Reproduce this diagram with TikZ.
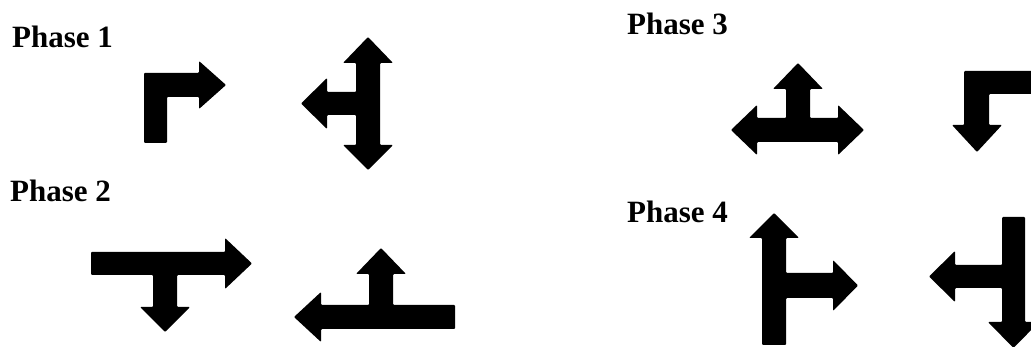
\documentclass[tikz,border=0pt]{standalone}
\usepackage{fontspec}
\setmainfont{Liberation Serif}
\begin{document}
\begin{tikzpicture}[x=1pt,y=-1pt,
  phaselabel/.style={anchor=base west,inner sep=0pt,font=\bfseries\fontsize{31}{36}\selectfont},
  signal/.style={fill=black,rounded corners=1pt}]
\useasboundingbox (0,0) rectangle (1031,347);
\clip (0,0) rectangle (1031,347);
% labels
\node[phaselabel] (p1) at (12,48) {Phase 1};
\node[phaselabel] (p2) at (10,202) {Phase 2};
\node[phaselabel] (p3) at (627,35) {Phase 3};
\node[phaselabel] (p4) at (627,223) {Phase 4};
% Phase 1: right turn
\fill[signal] (144,143) -- (144,73) -- (199,73) -- (199,61) -- (226,85) -- (199,109) -- (199,97) -- (167,97) -- (167,143) -- cycle;
% Phase 1: up / down / left
\fill[signal] (368,37) -- (393,63) -- (380,63) -- (380,145) -- (393,145) -- (368,170) -- (343,145) -- (356,145) -- (356,115) -- (327,115) -- (327,129) -- (301,103.5) -- (327,78) -- (327,92) -- (356,92) -- (356,63) -- (343,63) -- cycle;
% Phase 2: right + down
\fill[signal] (91,252) -- (225,252) -- (225,238) -- (252,263.5) -- (225,289) -- (225,275) -- (177,275) -- (177,307) -- (190,307) -- (165,332) -- (140,307) -- (153,307) -- (153,275) -- (91,275) -- cycle;
% Phase 2: left + up
\fill[signal] (455,305) -- (455,329) -- (321,329) -- (321,342) -- (294,317) -- (321,292) -- (321,305) -- (369,305) -- (369,274) -- (356,274) -- (381,248) -- (406,274) -- (393,274) -- (393,305) -- cycle;
% Phase 3: left / up / right
\fill[signal] (731,130) -- (757,105) -- (757,118) -- (786,118) -- (786,89) -- (773,89) -- (798,63) -- (823,89) -- (810,89) -- (810,118) -- (838,118) -- (838,105) -- (864,130) -- (838,155) -- (838,142) -- (757,142) -- (757,155) -- cycle;
% Phase 3: turn down
\fill[signal] (1045,71) -- (964,71) -- (964,125) -- (952,125) -- (977,152) -- (1002,125) -- (989,125) -- (989,94) -- (1045,94) -- cycle;
% Phase 4: up + right
\fill[signal] (762,345) -- (762,238) -- (749,238) -- (774,213) -- (799,238) -- (786,238) -- (786,273) -- (833,273) -- (833,260) -- (858,285.5) -- (833,311) -- (833,298) -- (786,298) -- (786,345) -- cycle;
% Phase 4: left + down
\fill[signal] (1002,217) -- (1025,217) -- (1025,322) -- (1039,322) -- (1013.5,348) -- (988,322) -- (1002,322) -- (1002,288) -- (955,288) -- (955,302) -- (929,276.5) -- (955,251) -- (955,265) -- (1002,265) -- cycle;
\end{tikzpicture}
\end{document}
